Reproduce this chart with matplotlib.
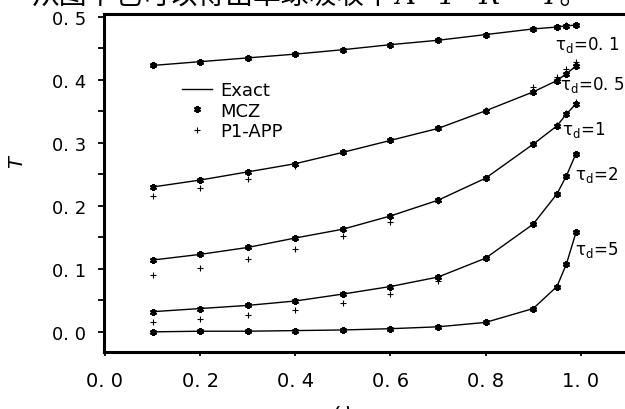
import matplotlib
matplotlib.use("Agg")
import matplotlib.pyplot as plt
import numpy as np

# albedo values (x axis)
omega = [0.1, 0.2, 0.3, 0.4, 0.5, 0.6, 0.7, 0.8, 0.9, 0.95, 0.97, 0.99]

# MCZ results (exact curve passes through the same points)
mcz_t01 = [0.423, 0.429, 0.435, 0.441, 0.448, 0.456, 0.463, 0.472, 0.481, 0.484, 0.486, 0.487]
mcz_t05 = [0.230, 0.241, 0.254, 0.267, 0.285, 0.304, 0.323, 0.351, 0.381, 0.399, 0.410, 0.422]
mcz_t1 = [0.114, 0.123, 0.134, 0.149, 0.163, 0.184, 0.209, 0.244, 0.298, 0.327, 0.346, 0.362]
mcz_t2 = [0.032, 0.037, 0.042, 0.049, 0.060, 0.072, 0.087, 0.117, 0.171, 0.219, 0.248, 0.283]
mcz_t5 = [0.000, 0.001, 0.001, 0.002, 0.003, 0.005, 0.008, 0.015, 0.037, 0.072, 0.108, 0.158]

# P1 approximation
p1_t01 = [0.423, 0.429, 0.435, 0.441, 0.448, 0.456, 0.463, 0.472, 0.481, 0.484, 0.487, 0.488]
p1_t05 = [0.215, 0.229, 0.242, 0.263, 0.285, 0.304, 0.323, 0.352, 0.388, 0.405, 0.417, 0.428]
p1_t1 = [0.090, 0.102, 0.116, 0.132, 0.152, 0.175, 0.208, 0.244, 0.298, 0.328, 0.348, 0.365]
p1_t2 = [0.016, 0.021, 0.026, 0.035, 0.046, 0.060, 0.080, 0.117, 0.171, 0.219, 0.248, 0.283]
p1_t5 = [0.000, 0.001, 0.001, 0.002, 0.003, 0.005, 0.008, 0.015, 0.037, 0.072, 0.108, 0.158]

curve_labels = [r"$\mathrm{\tau_d}$=0. 1", r"$\mathrm{\tau_d}$=0. 5", r"$\mathrm{\tau_d}$=1",
                r"$\mathrm{\tau_d}$=2", r"$\mathrm{\tau_d}$=5"]

x_ticks = [0.0, 0.2, 0.4, 0.6, 0.8, 1.0]
x_ticklabels = ["0. 0", "0. 2", "0. 4", "0. 6", "0. 8", "1. 0"]
y_ticks = [0.0, 0.1, 0.2, 0.3, 0.4, 0.5]
y_ticklabels = ["0. 0", "0. 1", "0. 2", "0. 3", "0. 4", "0. 5"]

fig = plt.figure(figsize=(6.25, 4.10), dpi=100)
ax = fig.add_axes([104 / 625, 1 - 353 / 410, 521 / 625, (353 - 14.5) / 410])

all_mcz = [mcz_t01, mcz_t05, mcz_t1, mcz_t2, mcz_t5]
all_p1 = [p1_t01, p1_t05, p1_t1, p1_t2, p1_t5]

for i, (m, p) in enumerate(zip(all_mcz, all_p1)):
    ax.plot(omega, m, color='black', linewidth=1.0,
            label='Exact' if i == 0 else None, zorder=2)
    ax.plot(omega, m, linestyle='none', marker=(6, 2, 0), markersize=5,
            markeredgewidth=1.5, color='black',
            label='MCZ' if i == 0 else None, zorder=4)
    ax.plot(omega, p, linestyle='none', marker='+', markersize=5,
            markeredgewidth=0.8, color='black',
            label='P1-APP' if i == 0 else None, zorder=3)

# curve labels (pixel positions of the text's left edge / centre)
label_pos = [(555, 45), (560, 85), (562, 130), (575, 175), (575, 250)]
for txt, (px, py) in zip(curve_labels, label_pos):
    fig.text(px / 625, 1 - py / 410, txt, fontsize=12, ha='left', va='center')

ax.set_xlim(-0.002, 1.093)
ax.set_ylim(-0.032, 0.5055)
ax.set_xticks(x_ticks)
ax.set_xticklabels(x_ticklabels, fontsize=14)
ax.set_yticks(y_ticks)
ax.set_yticklabels(y_ticklabels, fontsize=13)
ax.set_yticks([0.05, 0.15, 0.25, 0.35, 0.45], minor=True)
ax.tick_params(axis='y', which='both', direction='out', length=4, width=1.3, pad=9)
ax.tick_params(axis='x', which='major', direction='out', length=3, width=1.3, pad=11)

for s in ['left', 'bottom', 'top']:
    ax.spines[s].set_linewidth(2.2)
ax.spines['right'].set_visible(False)

ax.set_ylabel("$T$", fontsize=14)
ax.yaxis.set_label_coords(-0.148, 0.567)
ax.set_xlabel(r"$\omega$", fontsize=14)
ax.xaxis.set_label_coords(0.457, -0.145)

leg = ax.legend(loc='upper left', bbox_to_anchor=((182 - 104) / 521, (353 - 82) / 338.5),
                frameon=False, fontsize=13, handlelength=1.66, handletextpad=0.45,
                labelspacing=0.15, borderpad=0, borderaxespad=0)

# text of the page above the figure, mostly cut off
fig.text(32 / 625, 1 - 5 / 410, "从图中也可以得出单球吸收率", fontsize=20,
         family=['Noto Sans CJK SC', 'DejaVu Sans'], ha='left', va='baseline')
fig.text(395 / 625, 1 - 4 / 410, "A=1−R − T。", fontsize=20, style='italic',
         family=['DejaVu Serif', 'Noto Sans CJK SC'], ha='left', va='baseline')

fig.savefig("out.png", dpi=100)
